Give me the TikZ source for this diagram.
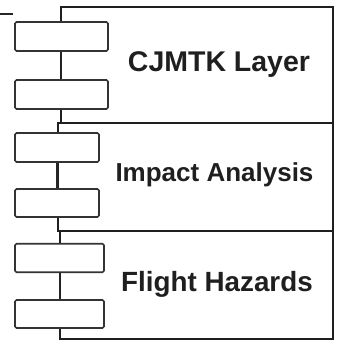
\documentclass[tikz,border=0pt]{standalone}
\usepackage{fontspec}
\setmainfont{Liberation Sans}
\begin{document}
\begin{tikzpicture}[x=1pt,y=-1pt,
  layerbox/.style={draw=black!88, line width=1.7pt, rectangle, inner sep=0pt},
  slotbox/.style={draw=black!80, line width=1.7pt, fill=white, rectangle,
    rounded corners=1.5pt, inner sep=0pt, minimum height=29pt},
  wire/.style={draw=black!85, line width=1.7pt},
  label/.style={anchor=base, inner sep=0pt, text=black!88, font=\bfseries}
]
\useasboundingbox (0,0) rectangle (337,346);

% layer frames
\node[layerbox, minimum width=272pt, minimum height=116pt] (L1) at (197,65) {};
\node[layerbox, minimum width=275pt, minimum height=108pt] (L2) at (195.5,177) {};
\node[layerbox, minimum width=273pt, minimum height=108pt] (L3) at (196.5,285) {};

% stub at the upper left
\coordinate (stubA) at (0,14);
\coordinate (stubB) at (13,14);
\draw[wire] (stubA) -- (stubB);

% slot boxes on the left edge of each frame
\node[slotbox, minimum width=93pt] (s1) at (61.5,36.5) {};
\node[slotbox, minimum width=93pt] (s2) at (61.5,94.5) {};
\node[slotbox, minimum width=84pt] (s3) at (57,147.5) {};
\node[slotbox, minimum width=84pt, minimum height=28pt] (s4) at (57,203) {};
\node[slotbox, minimum width=89pt, minimum height=28.5pt] (s5) at (59.5,258) {};
\node[slotbox, minimum width=89pt, minimum height=28pt] (s6) at (59.5,314) {};

% links between the slots
\draw[wire] (s1) -- (s2);
\draw[wire] (s3) -- (s4);
\draw[wire] (s5) -- (s6);

% layer titles
\node[label, font=\fontsize{28.5}{33}\selectfont\bfseries] (t1) at (219,71.5) {CJMTK Layer};
\node[label, font=\fontsize{26}{30}\selectfont\bfseries] (t2) at (214.5,181.5) {Impact Analysis};
\node[label, font=\fontsize{27.8}{32}\selectfont\bfseries] (t3) at (217,291.5) {Flight Hazards};
\end{tikzpicture}
\end{document}
